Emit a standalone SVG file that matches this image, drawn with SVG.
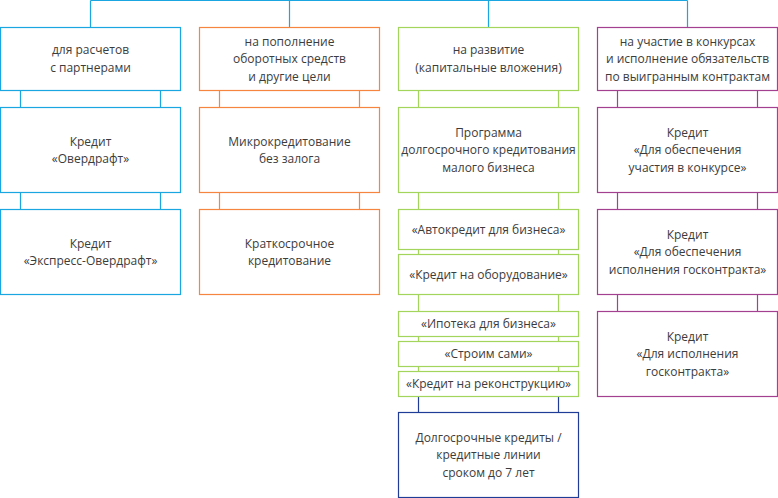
<svg xmlns="http://www.w3.org/2000/svg" width="778" height="498" viewBox="0 0 778 498">
<style>
rect{fill:#fff;stroke-width:1.2}
line{stroke-width:1.2}
text{font-family:"Open Sans","Liberation Sans",sans-serif;font-size:12px;fill:#3c3c3c;text-anchor:middle}
.b{stroke:#1aa7e1}
.o{stroke:#f5853f}
.g{stroke:#a3d55d}
.p{stroke:#a3408f}
.d{stroke:#1f3c96}
</style>
<rect width="778" height="498" fill="#fff" stroke="none"/>
<g id="connectors" fill="none">
<line class="b" x1="90.5" y1="0.5" x2="687.5" y2="0.5"/>
<line class="b" x1="90.5" y1="0.5" x2="90.5" y2="27.5"/>
<line class="b" x1="289.5" y1="0.5" x2="289.5" y2="27.5"/>
<line class="b" x1="488.5" y1="0.5" x2="488.5" y2="27.5"/>
<line class="b" x1="687.5" y1="0.5" x2="687.5" y2="27.5"/>
<!-- col1 -->
<line class="b" x1="20.5" y1="90.5" x2="20.5" y2="107.5"/>
<line class="b" x1="160.5" y1="90.5" x2="160.5" y2="107.5"/>
<line class="b" x1="20.5" y1="192.5" x2="20.5" y2="209.5"/>
<line class="b" x1="160.5" y1="192.5" x2="160.5" y2="209.5"/>
<!-- col2 -->
<line class="o" x1="219.5" y1="90.5" x2="219.5" y2="107.5"/>
<line class="o" x1="359.5" y1="90.5" x2="359.5" y2="107.5"/>
<line class="o" x1="219.5" y1="192.5" x2="219.5" y2="209.5"/>
<line class="o" x1="359.5" y1="192.5" x2="359.5" y2="209.5"/>
<!-- col3 -->
<line class="g" x1="418.5" y1="90.5" x2="418.5" y2="107.5"/>
<line class="g" x1="558.5" y1="90.5" x2="558.5" y2="107.5"/>
<line class="g" x1="418.5" y1="192.5" x2="418.5" y2="209.5"/>
<line class="g" x1="558.5" y1="192.5" x2="558.5" y2="209.5"/>
<line class="g" x1="418.5" y1="249.5" x2="418.5" y2="254.5"/>
<line class="g" x1="558.5" y1="249.5" x2="558.5" y2="254.5"/>
<line class="g" x1="418.5" y1="294.5" x2="418.5" y2="311.5"/>
<line class="g" x1="558.5" y1="294.5" x2="558.5" y2="311.5"/>
<line class="g" x1="418.5" y1="336.5" x2="418.5" y2="341.5"/>
<line class="g" x1="558.5" y1="336.5" x2="558.5" y2="341.5"/>
<line class="g" x1="418.5" y1="366.5" x2="418.5" y2="371.5"/>
<line class="g" x1="558.5" y1="366.5" x2="558.5" y2="371.5"/>
<line class="d" x1="418.5" y1="396.5" x2="418.5" y2="412.5"/>
<line class="d" x1="558.5" y1="396.5" x2="558.5" y2="412.5"/>
<!-- col4 -->
<line class="p" x1="617.5" y1="90.5" x2="617.5" y2="107.5"/>
<line class="p" x1="757.5" y1="90.5" x2="757.5" y2="107.5"/>
<line class="p" x1="617.5" y1="192.5" x2="617.5" y2="209.5"/>
<line class="p" x1="757.5" y1="192.5" x2="757.5" y2="209.5"/>
<line class="p" x1="617.5" y1="294.5" x2="617.5" y2="311.5"/>
<line class="p" x1="757.5" y1="294.5" x2="757.5" y2="311.5"/>
</g>
<g id="n1"><rect class="b" x="0.5" y="27.5" width="180" height="63"/><text x="90.5" y="54.3">для расчетов</text><text x="90.5" y="71.8">с партнерами</text></g>
<g id="n2"><rect class="o" x="199.5" y="27.5" width="180" height="63"/><text x="289.5" y="45.5">на пополнение</text><text x="289.5" y="63">оборотных средств</text><text x="289.5" y="80.5">и другие цели</text></g>
<g id="n3"><rect class="g" x="398.5" y="27.5" width="180" height="63"/><text x="488.5" y="54.3">на развитие</text><text x="488.5" y="71.8">(капитальные вложения)</text></g>
<g id="n4"><rect class="p" x="597.5" y="27.5" width="180" height="63"/><text x="687.5" y="45.5">на участие в конкурсах</text><text x="687.5" y="63">и исполнение обязательств</text><text x="687.5" y="80.5">по выигранным контрактам</text></g>
<g id="n5"><rect class="b" x="0.5" y="107.5" width="180" height="85"/><text x="90.5" y="145.5">Кредит</text><text x="90.5" y="163">«Овердрафт»</text></g>
<g id="n6"><rect class="b" x="0.5" y="209.5" width="180" height="85"/><text x="90.5" y="247.5">Кредит</text><text x="90.5" y="265">«Экспресс-Овердрафт»</text></g>
<g id="n7"><rect class="o" x="199.5" y="107.5" width="180" height="85"/><text x="289.5" y="145.5">Микрокредитование</text><text x="289.5" y="163">без залога</text></g>
<g id="n8"><rect class="o" x="199.5" y="209.5" width="180" height="85"/><text x="289.5" y="247.5">Краткосрочное</text><text x="289.5" y="265">кредитование</text></g>
<g id="n9"><rect class="g" x="398.5" y="107.5" width="180" height="85"/><text x="488.5" y="136.8">Программа</text><text x="488.5" y="154.3">долгосрочного кредитования</text><text x="488.5" y="171.8">малого бизнеса</text></g>
<g id="n10"><rect class="g" x="398.5" y="209.5" width="180" height="40"/><text x="488.5" y="233.8">«Автокредит для бизнеса»</text></g>
<g id="n11"><rect class="g" x="398.5" y="254.5" width="180" height="40"/><text x="488.5" y="278.8">«Кредит на оборудование»</text></g>
<g id="n12"><rect class="g" x="398.5" y="311.5" width="180" height="25"/><text x="488.5" y="328.3">«Ипотека для бизнеса»</text></g>
<g id="n13"><rect class="g" x="398.5" y="341.5" width="180" height="25"/><text x="488.5" y="358.3">«Строим сами»</text></g>
<g id="n14"><rect class="g" x="398.5" y="371.5" width="180" height="25"/><text x="488.5" y="388.3">«Кредит на реконструкцию»</text></g>
<g id="n15"><rect class="d" x="398.5" y="412.5" width="180" height="85"/><text x="488.5" y="441.8">Долгосрочные кредиты /</text><text x="488.5" y="459.3">кредитные линии</text><text x="488.5" y="476.8">сроком до 7 лет</text></g>
<g id="n16"><rect class="p" x="597.5" y="107.5" width="180" height="85"/><text x="687.5" y="136.8">Кредит</text><text x="687.5" y="154.3">«Для обеспечения</text><text x="687.5" y="171.8">участия в конкурсе»</text></g>
<g id="n17"><rect class="p" x="597.5" y="209.5" width="180" height="85"/><text x="687.5" y="238.8">Кредит</text><text x="687.5" y="256.3">«Для обеспечения</text><text x="687.5" y="273.8">исполнения госконтракта»</text></g>
<g id="n18"><rect class="p" x="597.5" y="311.5" width="180" height="85"/><text x="687.5" y="340.8">Кредит</text><text x="687.5" y="358.3">«Для исполнения</text><text x="687.5" y="375.8">госконтракта»</text></g>
</svg>
